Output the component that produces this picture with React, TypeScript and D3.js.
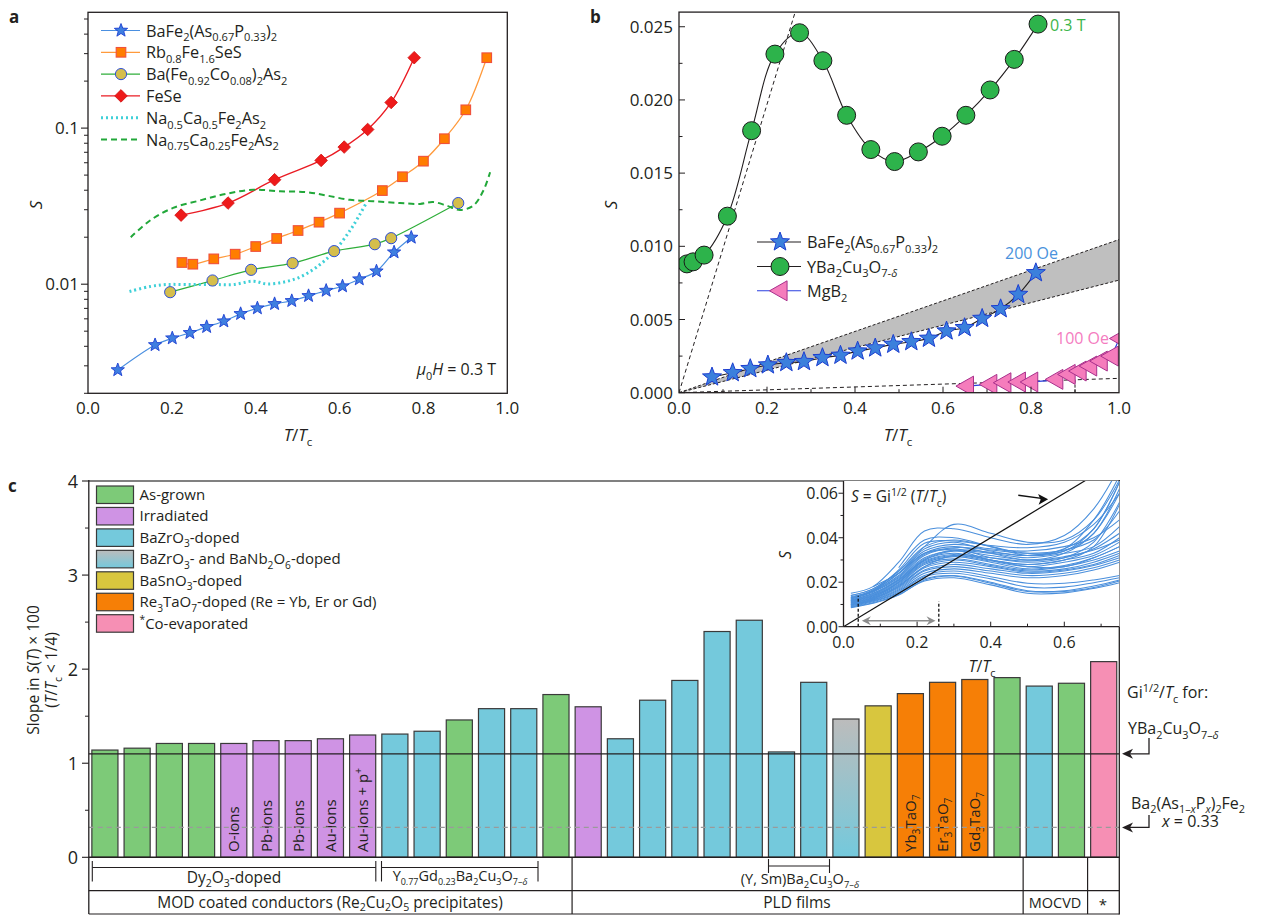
import React from 'react';
import * as d3 from 'd3';

const FONT = "'Open Sans', 'Noto Sans', sans-serif";

// ---------------- Panel a data ----------------
const aT_BaFeP = [0.071, 0.160, 0.201, 0.243, 0.283, 0.324, 0.364, 0.404, 0.445, 0.486, 0.526, 0.568, 0.607, 0.647, 0.688, 0.730, 0.771];
const aS_BaFeP = [0.00282, 0.00408, 0.00451, 0.00488, 0.00533, 0.00579, 0.00646, 0.00702, 0.00748, 0.00782, 0.00842, 0.00910, 0.00971, 0.01077, 0.01211, 0.01603, 0.01991];
const aT_Rb = [0.224, 0.250, 0.300, 0.351, 0.400, 0.450, 0.501, 0.551, 0.600, 0.702, 0.750, 0.800, 0.850, 0.901, 0.951];
const aS_Rb = [0.01377, 0.01343, 0.01453, 0.01557, 0.01743, 0.01963, 0.02208, 0.02496, 0.02853, 0.0398, 0.0488, 0.0614, 0.0855, 0.131, 0.2825];
const aT_Co = [0.196, 0.297, 0.389, 0.488, 0.587, 0.684, 0.723, 0.883];
const aS_Co = [0.00889, 0.01056, 0.01236, 0.01364, 0.01629, 0.01804, 0.01972, 0.0331];
const aT_FeSe = [0.222, 0.334, 0.445, 0.556, 0.611, 0.667, 0.723, 0.778];
const aS_FeSe = [0.0277, 0.0331, 0.0467, 0.0621, 0.0756, 0.0980, 0.146, 0.2825];
const aT_Na05 = [0.099, 0.148, 0.187, 0.235, 0.299, 0.347, 0.394, 0.426, 0.466, 0.505, 0.545, 0.585, 0.625, 0.649, 0.665];
const aS_Na05 = [0.00898, 0.00966, 0.00995, 0.00995, 0.00995, 0.00995, 0.01045, 0.01005, 0.0103, 0.0111, 0.01285, 0.01603, 0.0221, 0.0282, 0.0336];
const aT_Na075 = [0.102, 0.148, 0.203, 0.267, 0.331, 0.394, 0.458, 0.521, 0.569, 0.625, 0.680, 0.744, 0.792, 0.823, 0.855, 0.887, 0.919, 0.943, 0.959];
const aS_Na075 = [0.0200, 0.0256, 0.0308, 0.0344, 0.0380, 0.0403, 0.0394, 0.0389, 0.0370, 0.0347, 0.0340, 0.0331, 0.0327, 0.0336, 0.0319, 0.0299, 0.0319, 0.0398, 0.0522];
const aLegend = ['BaFe_{2}(As_{0.67}P_{0.33})_{2}', 'Rb_{0.8}Fe_{1.6}SeS', 'Ba(Fe_{0.92}Co_{0.08})_{2}As_{2}', 'FeSe', 'Na_{0.5}Ca_{0.5}Fe_{2}As_{2}', 'Na_{0.75}Ca_{0.25}Fe_{2}As_{2}'];
const aXTicks = [0, 0.2, 0.4, 0.6, 0.8, 1.0];
const aYMajor = [0.01, 0.1];
const aYMinor = [0.002, 0.003, 0.004, 0.005, 0.006, 0.007, 0.008, 0.009, 0.02, 0.03, 0.04, 0.05, 0.06, 0.07, 0.08, 0.09, 0.2, 0.3, 0.4, 0.5];

// ---------------- Panel b data ----------------
const bT_YBCO = [0.018, 0.032, 0.057, 0.110, 0.165, 0.218, 0.274, 0.327, 0.381, 0.436, 0.490, 0.544, 0.598, 0.652, 0.707, 0.762, 0.816];
const bS_YBCO = [0.00880, 0.00894, 0.00940, 0.01206, 0.01790, 0.02313, 0.02459, 0.02268, 0.01895, 0.01661, 0.01579, 0.01645, 0.01752, 0.01895, 0.02068, 0.02277, 0.02518];
const bT_BaFeP = [0.075, 0.122, 0.162, 0.202, 0.244, 0.284, 0.326, 0.367, 0.406, 0.446, 0.487, 0.528, 0.568, 0.608, 0.649, 0.689, 0.731, 0.771, 0.811];
const bS_BaFeP = [0.00107, 0.00136, 0.00164, 0.00189, 0.00205, 0.00212, 0.00239, 0.00255, 0.00284, 0.00305, 0.00330, 0.00348, 0.00371, 0.00421, 0.00444, 0.00507, 0.00573, 0.00671, 0.00819];
const bT_MgB2 = [0.651, 0.704, 0.736, 0.769, 0.797, 0.854, 0.882, 0.907, 0.931, 0.955, 0.980, 1.0];
const bS_MgB2 = [0.00045, 0.00057, 0.00068, 0.00073, 0.00073, 0.00091, 0.00125, 0.00148, 0.00182, 0.00216, 0.0025, 0.0037];
const bSteepLine = [[0, 0], [0.264, 0.026]];
const bBandUpper = [[0, 0], [1, 0.01046]];
const bBandLower = [[0, 0], [1, 0.00769]];
const bMgB2Line = [[0, 0], [1, 0.00098]];
const bLegend = ['BaFe_{2}(As_{0.67}P_{0.33})_{2}', 'YBa_{2}Cu_{3}O_{7-~δ~}', 'MgB_{2}'];
const bYTicks = [0, 0.005, 0.01, 0.015, 0.02, 0.025];
const bYLabels = ['0.000', '0.005', '0.010', '0.015', '0.020', '0.025'];
const bXTicks = [0, 0.2, 0.4, 0.6, 0.8, 1.0];

// ---------------- Panel c data ----------------
const barValues = [1.14, 1.16, 1.21, 1.21, 1.21, 1.24, 1.24, 1.26, 1.30, 1.31, 1.34, 1.46, 1.58, 1.58, 1.73,
  1.60, 1.26, 1.67, 1.88, 2.40, 2.52, 1.12, 1.86, 1.47, 1.61, 1.74, 1.86, 1.89, 1.91,
  1.82, 1.85, 2.08];
const barTypes = ['ag', 'ag', 'ag', 'ag', 'ir', 'ir', 'ir', 'ir', 'ir', 'bz', 'bz', 'ag', 'bz', 'bz', 'ag',
  'ir', 'bz', 'bz', 'bz', 'bz', 'bz', 'bz', 'bz', 'bn', 'bs', 'rt', 'rt', 'rt', 'ag',
  'bz', 'ag', 'co'];
const barLabels: Record<number, string> = {
  4: 'O-ions', 5: 'Pb-ions', 6: 'Pb-ions', 7: 'Au-ions', 8: 'Au-ions + p^{+}',
  25: 'Yb_{3}TaO_{7}', 26: 'Er_{3}TaO_{7}', 27: 'Gd_{3}TaO_{7}',
};
const typeOrder = ['ag', 'ir', 'bz', 'bn', 'bs', 'rt', 'co'];
const typeColors: Record<string, string> = {
  ag: '#7dca78', ir: '#cf93e4', bz: '#74c9dc', bn: 'url(#gradBN)', bs: '#d8c63e', rt: '#f67f06', co: '#f68fb4',
};
const cLegend = ['As-grown', 'Irradiated', 'BaZrO_{3}-doped', 'BaZrO_{3}- and BaNb_{2}O_{6}-doped', 'BaSnO_{3}-doped',
  'Re_{3}TaO_{7}-doped (Re = Yb, Er or Gd)', '^{*}Co-evaporated'];
const cYTicks = [0, 1, 2, 3, 4];
const gi_YBCO = 1.1;
const gi_BaFeP = 0.318;

// ---------------- Inset data ----------------
const insetT = [0.02, 0.08, 0.15, 0.22, 0.3, 0.4, 0.5, 0.6, 0.68, 0.75];
const insetCurves: (number | null)[][] = [
  [0.0150, 0.0180, 0.0290, 0.0430, 0.0440, 0.0400, 0.0370, 0.0410, 0.0530, 0.0720],
  [0.0140, 0.0170, 0.0250, 0.0360, 0.0460, 0.0420, 0.0380, 0.0390, 0.0480, 0.0660],
  [0.0130, 0.0165, 0.0240, 0.0350, 0.0380, 0.0340, 0.0320, 0.0350, 0.0480, 0.0680],
  [0.0135, 0.0160, 0.0230, 0.0330, 0.0360, 0.0330, 0.0300, 0.0330, 0.0420, 0.0600],
  [0.0125, 0.0155, 0.0220, 0.0320, 0.0350, 0.0310, 0.0290, 0.0310, 0.0380, 0.0560],
  [0.0120, 0.0150, 0.0215, 0.0310, 0.0340, 0.0320, 0.0300, 0.0310, 0.0350, 0.0420],
  [0.0118, 0.0145, 0.0210, 0.0300, 0.0330, 0.0300, 0.0280, 0.0300, 0.0330, 0.0400],
  [0.0115, 0.0140, 0.0200, 0.0290, 0.0320, 0.0295, 0.0270, 0.0290, 0.0320, 0.0380],
  [0.0112, 0.0138, 0.0195, 0.0285, 0.0315, 0.0290, 0.0260, 0.0275, 0.0310, 0.0360],
  [0.0110, 0.0135, 0.0190, 0.0280, 0.0305, 0.0280, 0.0255, 0.0270, 0.0300, 0.0340],
  [0.0108, 0.0130, 0.0185, 0.0270, 0.0300, 0.0275, 0.0250, 0.0260, 0.0290, 0.0330],
  [0.0105, 0.0128, 0.0180, 0.0265, 0.0290, 0.0270, 0.0245, 0.0255, 0.0280, 0.0320],
  [0.0102, 0.0125, 0.0175, 0.0255, 0.0280, 0.0260, 0.0240, 0.0250, 0.0275, 0.0310],
  [0.0100, 0.0122, 0.0170, 0.0250, 0.0270, 0.0250, 0.0230, 0.0240, 0.0265, 0.0300],
  [0.0098, 0.0120, 0.0165, 0.0240, 0.0260, 0.0240, 0.0220, 0.0230, 0.0255, 0.0290],
  [0.0095, 0.0118, 0.0160, 0.0230, 0.0250, 0.0225, 0.0195, 0.0195, 0.0210, 0.0230],
  [0.0093, 0.0115, 0.0155, 0.0225, 0.0240, 0.0215, 0.0178, 0.0178, 0.0198, 0.0220],
  [0.0090, 0.0112, 0.0150, 0.0215, 0.0230, 0.0200, 0.0162, 0.0162, 0.0183, 0.0210],
  [0.0088, 0.0108, 0.0145, 0.0205, 0.0220, 0.0188, 0.0150, 0.0152, 0.0172, 0.0198],
  [0.0085, 0.0105, 0.0142, 0.0210, 0.0228, 0.0195, 0.0158, 0.0158, 0.0176, 0.0205],
  [0.0125, 0.0160, 0.0240, 0.0340, 0.0370, 0.0350, 0.0340, 0.0360, 0.0400, 0.0480],
  [0.0130, 0.0158, 0.0225, 0.0325, 0.0355, 0.0345, 0.0330, 0.0345, 0.0390, 0.0520],
  [0.0140, 0.0170, 0.0250, 0.0360, 0.0390, 0.0360, 0.0330, 0.0340, 0.0440, 0.0650],
  [null, null, 0.0265, 0.0390, 0.0400, 0.0360, 0.0320, 0.0340, 0.0420, 0.0620],
  [0.0105, 0.0132, 0.0200, 0.0300, 0.0340, 0.0330, 0.0310, 0.0330, 0.0360, 0.0450],
  [0.0115, 0.0142, 0.0205, 0.0295, 0.0325, 0.0310, 0.0295, 0.0315, 0.0345, 0.0390],
  [null, 0.0180, 0.0240, 0.0330, 0.0345, 0.0300, 0.0280, 0.0300, 0.0360, 0.0550],
  [0.0120, 0.0148, 0.0210, 0.0305, 0.0345, 0.0335, 0.0320, 0.0350, 0.0440, 0.0650],
  [0.0100, 0.0125, 0.0180, 0.0270, 0.0320, 0.0300, 0.0270, 0.0270, 0.0310, 0.0360],
  [0.0128, 0.0162, 0.0255, 0.0375, 0.0385, 0.0365, 0.0355, 0.0380, 0.0460, 0.0600],
];
const insetGiLine = [[0, 0], [0.66, 0.066]];
const insetYTicks = [0, 0.02, 0.04, 0.06];
const insetXTicks = [0, 0.2, 0.4, 0.6];

// ---------------- helpers ----------------
type Seg = { text: string; mode: number; italic: boolean };
function parseRich(s: string): Seg[] {
  const segs: Seg[] = [];
  let italic = false, mode = 0, buf = '';
  const push = () => { if (buf) { segs.push({ text: buf, mode, italic }); buf = ''; } };
  for (let i = 0; i < s.length; i++) {
    const c = s[i];
    if ((c === '_' || c === '^') && s[i + 1] === '{') { push(); mode = c === '_' ? 1 : -1; i++; continue; }
    if (c === '}' && mode !== 0) { push(); mode = 0; continue; }
    if (c === '~') { push(); italic = !italic; continue; }
    buf += c;
  }
  push();
  return segs;
}

function Rich(props: { x: number; y: number; text: string; fs?: number; anchor?: string; fill?: string; rotate?: number; weight?: string; subScale?: number; subShift?: number }) {
  const { x, y, text, fs = 16, anchor = 'start', fill = '#231f20', rotate = 0, weight = 'normal', subScale = 0.68, subShift = 0.3 } = props;
  const segs = parseRich(text);
  let cur = 0;
  const spans = segs.map((s, i) => {
    const target = s.mode === 1 ? subShift * fs : s.mode === -1 ? -0.38 * fs : 0;
    const dy = target - cur;
    cur = target;
    return (
      <tspan key={i} dy={dy} fontSize={s.mode !== 0 ? fs * subScale : fs} fontStyle={s.italic ? 'italic' : 'normal'}>{s.text}</tspan>
    );
  });
  return (
    <text x={x} y={y} fontSize={fs} fontFamily={FONT} textAnchor={anchor as any} fill={fill} fontWeight={weight}
      style={{ whiteSpace: 'pre' }} transform={rotate ? `rotate(${rotate},${x},${y})` : undefined}>
      {spans}
    </text>
  );
}

function starPath(R: number) {
  const r = R * 0.42;
  const pts: string[] = [];
  for (let i = 0; i < 10; i++) {
    const a = -Math.PI / 2 + (i * Math.PI) / 5;
    const rr = i % 2 === 0 ? R : r;
    pts.push(`${(rr * Math.cos(a)).toFixed(2)},${(rr * Math.sin(a)).toFixed(2)}`);
  }
  return 'M' + pts.join('L') + 'Z';
}
const diamondPath = (r: number) => `M0,${-r}L${r},0L0,${r}L${-r},0Z`;
const leftTriPath = (r: number) => `M${-r},0L${r * 0.85},${-r * 1.05}L${r * 0.85},${r * 1.05}Z`;

// ---------------- scales ----------------
const xA = d3.scaleLinear().domain([0, 1]).range([88, 507.3]);
const yA = d3.scaleLog().domain([0.002, 0.552]).range([393.3, 12.3]);
const xB = d3.scaleLinear().domain([0, 1]).range([679, 1119]);
const yB = d3.scaleLinear().domain([0, 0.026]).range([392.7, 12.1]);
const xC = d3.scaleBand<number>().domain(d3.range(barValues.length)).range([88.8, 1119.8]).paddingInner(0.19).paddingOuter(0.095);
const yC = d3.scaleLinear().domain([0, 4]).range([857.3, 481]);
const xI = d3.scaleLinear().domain([0, 0.75]).range([843.5, 1119.5]);
const yI = d3.scaleLinear().domain([0, 0.0655]).range([626.7, 481]);

const smooth = (xs: any, ys: any) => d3.line<number>().x((d) => xs(d[0])).y((d) => ys(d[1])).curve(d3.curveCatmullRom.alpha(0.5));
const straight = (xs: any, ys: any) => d3.line<number[]>().x((d) => xs(d[0])).y((d) => ys(d[1]));
const zip = (t: number[], s: number[]) => t.map((v, i) => [v, s[i]]);

function PanelA() {
  const line = smooth(xA, yA);
  const series = [
    { t: aT_BaFeP, s: aS_BaFeP, color: '#4a8fe0', w: 1.2, dash: undefined as string | undefined },
    { t: aT_Rb, s: aS_Rb, color: '#ff9a3c', w: 1.3, dash: undefined },
    { t: aT_Co, s: aS_Co, color: '#2fae3a', w: 1.2, dash: undefined },
    { t: aT_FeSe, s: aS_FeSe, color: '#ea1c24', w: 1.4, dash: undefined },
    { t: aT_Na05, s: aS_Na05, color: '#3fd0d8', w: 3, dash: '2,3' },
    { t: aT_Na075, s: aS_Na075, color: '#22a83a', w: 2, dash: '6,4' },
  ];
  const marker = (k: number, x: number, y: number, key: any) => {
    if (k === 0) return <path key={key} d={starPath(7)} transform={`translate(${x},${y})`} fill="#3f7fe0" stroke="#1d3fd2" strokeWidth={0.9} />;
    if (k === 1) return <rect key={key} x={x - 4.8} y={y - 4.8} width={9.6} height={9.6} fill="#ff7d00" stroke="#f0503c" strokeWidth={1.1} />;
    if (k === 2) return <circle key={key} cx={x} cy={y} r={5.6} fill="#d5be4c" stroke="#2d4fd8" strokeWidth={1} />;
    if (k === 3) return <path key={key} d={diamondPath(6.3)} transform={`translate(${x},${y})`} fill="#ee1a1a" stroke="#d01010" strokeWidth={0.8} />;
    return null;
  };
  return (
    <g>
      <rect x={88} y={12.3} width={419.3} height={381} fill="none" stroke="#231f20" strokeWidth={1.3} />
      {aYMajor.map((v) => <line key={'M' + v} x1={81} x2={88} y1={yA(v)} y2={yA(v)} stroke="#231f20" strokeWidth={1.1} />)}
      {aYMinor.map((v) => <line key={'m' + v} x1={84} x2={88} y1={yA(v)} y2={yA(v)} stroke="#231f20" strokeWidth={1} />)}
      <Rich x={79} y={yA(0.1) + 6} text="0.1" fs={17} anchor="end" />
      <Rich x={79} y={yA(0.01) + 6} text="0.01" fs={17} anchor="end" />
      {aXTicks.map((v) => <Rich key={v} x={xA(v)} y={414} text={v.toFixed(1)} fs={17} anchor="middle" />)}
      <Rich x={42} y={205} text="~S~" fs={17} anchor="middle" rotate={-90} />
      <Rich x={298} y={441} text="~T~/~T~_{c}" fs={17} anchor="middle" />
      <g clipPath="url(#clipA)">
        {series.map((s, k) => (
          <path key={k} d={line(zip(s.t, s.s) as any) || ''} fill="none" stroke={s.color} strokeWidth={s.w} strokeDasharray={s.dash} />
        ))}
        {series.slice(0, 4).map((s, k) => s.t.map((t, i) => marker(k, xA(t), yA(s.s[i]), `${k}-${i}`)))}
      </g>
      {aLegend.map((txt, k) => {
        const y = 30.5 + k * 21.8;
        const s = series[k];
        return (
          <g key={k}>
            <line x1={101} x2={140} y1={y} y2={y} stroke={s.color} strokeWidth={k >= 4 ? (k === 4 ? 3 : 2) : s.w} strokeDasharray={s.dash} />
            {marker(k, 121, y, 'lg' + k)}
            <Rich x={146} y={y + 6} text={txt} fs={16.3} />
          </g>
        );
      })}
      <Rich x={496} y={375} text="~μ~_{0}~H~ = 0.3 T" fs={16} anchor="end" />
      <text x={9} y={23} fontSize={17} fontWeight="bold" fontFamily={FONT} fill="#231f20">a</text>
    </g>
  );
}

function PanelB() {
  const line = smooth(xB, yB);
  const sl = straight(xB, yB);
  const band = [bBandUpper[0], bBandUpper[1], bBandLower[1]];
  const star = (x: number, y: number, key: any) => <path key={key} d={starPath(10)} transform={`translate(${x},${y})`} fill="#3b80dc" stroke="#1c3dd0" strokeWidth={1} />;
  const circ = (x: number, y: number, key: any) => <circle key={key} cx={x} cy={y} r={9} fill="#2db34b" stroke="#1a1a1a" strokeWidth={1} />;
  const tri = (x: number, y: number, key: any) => <path key={key} d={leftTriPath(9.5)} transform={`translate(${x},${y})`} fill="#f57cbc" stroke="#a8308c" strokeWidth={1} />;
  return (
    <g>
      <g clipPath="url(#clipB)">
        <path d={sl(band as any) + 'Z'} fill="#bfbfbf" stroke="none" />
        <path d={sl(bBandUpper as any) || ''} fill="none" stroke="#231f20" strokeWidth={1} strokeDasharray="3,2" />
        <path d={sl(bBandLower as any) || ''} fill="none" stroke="#231f20" strokeWidth={1} strokeDasharray="3,2" />
        <path d={sl(bSteepLine as any) || ''} fill="none" stroke="#231f20" strokeWidth={1} strokeDasharray="4,3" />
        <path d={sl(bMgB2Line as any) || ''} fill="none" stroke="#231f20" strokeWidth={1} strokeDasharray="4,3" />
        <line x1={xB(0.9)} x2={xB(0.9)} y1={yB(0)} y2={yB(0.00094)} stroke="#231f20" strokeWidth={1} strokeDasharray="3,2" />
        <path d={line(zip(bT_YBCO, bS_YBCO) as any) || ''} fill="none" stroke="#231f20" strokeWidth={1.1} />
        <path d={line(zip(bT_BaFeP, bS_BaFeP) as any) || ''} fill="none" stroke="#231f20" strokeWidth={1.1} />
        <path d={line(zip(bT_MgB2, bS_MgB2) as any) || ''} fill="none" stroke="#2a3fe0" strokeWidth={1.1} />
        {bT_YBCO.map((t, i) => circ(xB(t), yB(bS_YBCO[i]), 'c' + i))}
        {bT_BaFeP.map((t, i) => star(xB(t), yB(bS_BaFeP[i]), 's' + i))}
        {bT_MgB2.map((t, i) => tri(xB(t), yB(bS_MgB2[i]), 't' + i))}
      </g>
      <rect x={679} y={12.1} width={440} height={380.6} fill="none" stroke="#231f20" strokeWidth={1.3} />
      {d3.range(0, 0.0251, 0.0025).map((v, i) => (
        <line key={'y' + i} x1={679} x2={679 + (i % 2 === 0 ? 6 : 3.5)} y1={yB(v)} y2={yB(v)} stroke="#231f20" strokeWidth={1} />
      ))}
      {d3.range(0.1, 0.95, 0.1).map((v, i) => (
        <line key={'x' + i} x1={xB(v)} x2={xB(v)} y1={392.7} y2={392.7 - (i % 2 === 1 ? 6 : 3.5)} stroke="#231f20" strokeWidth={1} />
      ))}
      {bYTicks.map((v, i) => <Rich key={v} x={673} y={yB(v) + 6} text={bYLabels[i]} fs={17} anchor="end" />)}
      {bXTicks.map((v) => <Rich key={v} x={xB(v)} y={414} text={v.toFixed(1)} fs={17} anchor="middle" />)}
      <Rich x={617} y={205} text="~S~" fs={17} anchor="middle" rotate={-90} />
      <Rich x={898} y={441} text="~T~/~T~_{c}" fs={17} anchor="middle" />
      {bLegend.map((txt, k) => {
        const y = [242, 266.5, 290.8][k];
        return (
          <g key={k}>
            <line x1={757} x2={801} y1={y} y2={y} stroke={k === 2 ? '#2a3fe0' : '#231f20'} strokeWidth={1.1} />
            {k === 0 ? star(780, y, 'l0') : k === 1 ? circ(780, y, 'l1') : tri(779, y, 'l2')}
            <Rich x={807} y={y + 6} text={txt} fs={16.3} />
          </g>
        );
      })}
      <Rich x={1050} y={31} text="0.3 T" fs={16} fill="#3cb54a" />
      <Rich x={1005} y={259} text="200 Oe" fs={16} fill="#4a92dc" />
      <Rich x={1056} y={344} text="100 Oe" fs={16} fill="#f47cc0" />
      <text x={590} y={23} fontSize={17} fontWeight="bold" fontFamily={FONT} fill="#231f20">b</text>
    </g>
  );
}

function Inset() {
  const line = d3.line<[number, number | null]>().defined((d) => d[1] != null).x((d) => xI(d[0])).y((d) => yI(d[1] as number)).curve(d3.curveCatmullRom.alpha(0.5));
  const sl = straight(xI, yI);
  const ay = yI(0.0027);
  return (
    <g>
      <rect x={843.5} y={481} width={276} height={145.7} fill="#fff" />
      <g clipPath="url(#clipI)">
        {insetCurves.map((c, k) => (
          <path key={k} d={line(insetT.map((t, i) => [t, c[i]] as [number, number | null])) || ''} fill="none" stroke="#4a8fdc" strokeWidth={1.05} />
        ))}
        <path d={sl(insetGiLine as any) || ''} stroke="#111" strokeWidth={1.2} fill="none" />
      </g>
      <line x1={xI(0.04)} x2={xI(0.04)} y1={yI(0)} y2={yI(0.0139)} stroke="#111" strokeWidth={1.3} strokeDasharray="3,2" />
      <line x1={xI(0.259)} x2={xI(0.259)} y1={yI(0)} y2={yI(0.0113)} stroke="#111" strokeWidth={1.3} strokeDasharray="3,2" />
      <line x1={xI(0.05) + 4} x2={xI(0.25) - 4} y1={ay} y2={ay} stroke="#8c8c8c" strokeWidth={1.6} />
      <path d={`M${xI(0.05)},${ay}L${xI(0.05) + 9},${ay - 4.5}L${xI(0.05) + 6},${ay}L${xI(0.05) + 9},${ay + 4.5}Z`} fill="#8c8c8c" />
      <path d={`M${xI(0.25)},${ay}L${xI(0.25) - 9},${ay - 4.5}L${xI(0.25) - 6},${ay}L${xI(0.25) - 9},${ay + 4.5}Z`} fill="#8c8c8c" />
      <line x1={xI(0.475)} y1={yI(0.0591)} x2={xI(0.548)} y2={yI(0.0575)} stroke="#111" strokeWidth={1.3} />
      <path d={`M${xI(0.556)},${yI(0.0573)}l-10,-5.2l2.5,5.6l-2,5Z`} fill="#111" />
      <line x1={843.5} x2={843.5} y1={481} y2={626.7} stroke="#231f20" strokeWidth={1.3} />
      <line x1={843.5} x2={1119} y1={626.7} y2={626.7} stroke="#231f20" strokeWidth={1.3} />
      {d3.range(0, 0.0601, 0.01).map((v, i) => (
        <line key={'y' + i} x1={843.5 - (i % 2 === 0 ? 5 : 3)} x2={843.5} y1={yI(v)} y2={yI(v)} stroke="#231f20" strokeWidth={1} />
      ))}
      {d3.range(0.1, 0.75, 0.1).map((v, i) => (
        <line key={'x' + i} x1={xI(v)} x2={xI(v)} y1={626.7} y2={626.7 - (i % 2 === 1 ? 5 : 3)} stroke="#231f20" strokeWidth={1} />
      ))}
      {insetYTicks.map((v) => <Rich key={v} x={838} y={yI(v) + 6} text={v.toFixed(2)} fs={16} anchor="end" />)}
      {insetXTicks.map((v) => <Rich key={v} x={xI(v)} y={648} text={v.toFixed(1)} fs={16} anchor="middle" />)}
      <Rich x={791} y={555} text="~S~" fs={16} anchor="middle" rotate={-90} />
      <Rich x={982} y={672} text="~T~/~T~_{c}" fs={16} anchor="middle" />
      <Rich x={851} y={502} text="~S~ = Gi^{1/2} (~T~/~T~_{c})" fs={15.5} />
    </g>
  );
}

function PanelC() {
  const bw = xC.bandwidth();
  const y0 = yC(0);
  return (
    <g>
      {barValues.map((v, i) => (
        <rect key={i} x={xC(i)} y={yC(v)} width={bw} height={y0 - yC(v)} fill={typeColors[barTypes[i]]} stroke="#3a3a3a" strokeWidth={1.2} />
      ))}
      {Object.keys(barLabels).map((k) => {
        const i = +k;
        return <Rich key={k} x={(xC(i) as number) + bw / 2 + 5.5} y={852} text={barLabels[i]} fs={15} anchor="start" rotate={-90} subShift={0.25} />;
      })}
      <line x1={88.8} x2={1119} y1={yC(gi_YBCO)} y2={yC(gi_YBCO)} stroke="#231f20" strokeWidth={1.3} />
      <line x1={88.8} x2={1119} y1={yC(gi_BaFeP)} y2={yC(gi_BaFeP)} stroke="#9a9a9a" strokeWidth={1.3} strokeDasharray="5,4" />
      {/* frame */}
      <line x1={88.8} x2={1119.5} y1={481} y2={481} stroke="#808080" strokeWidth={2} />
      <line x1={88.8} x2={88.8} y1={480} y2={914} stroke="#231f20" strokeWidth={1.3} />
      <line x1={1119.3} x2={1119.3} y1={480} y2={914.5} stroke="#231f20" strokeWidth={1.3} />
      <line x1={88.8} x2={1119.3} y1={y0} y2={y0} stroke="#231f20" strokeWidth={1.4} />
      <line x1={88.8} x2={1119.3} y1={890.7} y2={890.7} stroke="#231f20" strokeWidth={1.2} />
      <line x1={88.8} x2={1119.3} y1={914} y2={914} stroke="#231f20" strokeWidth={1.2} />
      {[15, 29, 31].map((i) => {
        const x = (xC(i) as number) - xC.step() * 0.095;
        return <line key={i} x1={x} x2={x} y1={y0} y2={914} stroke="#231f20" strokeWidth={1.2} />;
      })}
      {cYTicks.map((v) => <line key={v} x1={82} x2={88.8} y1={yC(v)} y2={yC(v)} stroke="#231f20" strokeWidth={1.1} />)}
      {[0.5, 1.5, 2.5, 3.5].map((v) => <line key={v} x1={85} x2={88.8} y1={yC(v)} y2={yC(v)} stroke="#231f20" strokeWidth={1} />)}
      {cYTicks.map((v) => <Rich key={v} x={78} y={yC(v) + 6.5} text={String(v)} fs={18} anchor="end" />)}
      <Rich x={39} y={670} text="Slope in ~S~(~T~) × 100" fs={15.5} anchor="middle" rotate={-90} />
      <Rich x={57} y={670} text="(~T~/~T~_{c} < 1/4)" fs={15.5} anchor="middle" rotate={-90} />
      <text x={8} y={492} fontSize={17} fontWeight="bold" fontFamily={FONT} fill="#231f20">c</text>
      {/* legend */}
      {cLegend.map((txt, k) => {
        const y = 486 + k * 21.45;
        return (
          <g key={k}>
            <rect x={96.5} y={y} width={37} height={17.5} fill={typeColors[typeOrder[k]]} stroke="#3a3a3a" strokeWidth={1.2} />
            <Rich x={139.5} y={y + 14} text={txt} fs={15} />
          </g>
        );
      })}
      {/* brackets */}
      <g stroke="#231f20" strokeWidth={1.1}>
        <line x1={92.3} x2={375.8} y1={867.5} y2={867.5} />
        <line x1={92.3} x2={92.3} y1={861} y2={881.5} />
        <line x1={375.8} x2={375.8} y1={861} y2={881.5} />
        <line x1={381.5} x2={538} y1={867.5} y2={867.5} />
        <line x1={381.5} x2={381.5} y1={861} y2={881.5} />
        <line x1={538} x2={538} y1={861} y2={881.5} />
        <line x1={768.5} x2={829.5} y1={866} y2={866} />
        <line x1={768.5} x2={768.5} y1={859} y2={873} />
        <line x1={829.5} x2={829.5} y1={859} y2={873} />
      </g>
      <Rich x={234} y={882.5} text="Dy_{2}O_{3}-doped" fs={15.5} anchor="middle" />
      <Rich x={460} y={881} text="Y_{0.77}Gd_{0.23}Ba_{2}Cu_{3}O_{7–~δ~}" fs={14.5} anchor="middle" subScale={0.62} subShift={0.25} />
      <Rich x={800} y={884} text="(Y, Sm)Ba_{2}Cu_{3}O_{7–~δ~}" fs={14.5} anchor="middle" subScale={0.65} subShift={0.25} />
      <Rich x={330} y={908} text="MOD coated conductors (Re_{2}Cu_{2}O_{5} precipitates)" fs={15.5} anchor="middle" subShift={0.22} />
      <Rich x={797} y={908} text="PLD films" fs={15.5} anchor="middle" />
      <Rich x={1055} y={908} text="MOCVD" fs={14.5} anchor="middle" />
      <Rich x={1103} y={910} text="*" fs={15} anchor="middle" />
      {/* right annotations */}
      <Rich x={1127} y={698} text="Gi^{1/2}/~T~_{c} for:" fs={16} />
      <Rich x={1128} y={734} text="YBa_{2}Cu_{3}O_{7–~δ~}" fs={16} />
      <path d={`M1149,738V${yC(gi_YBCO)}H1130`} fill="none" stroke="#231f20" strokeWidth={1.3} />
      <path d={`M1122,${yC(gi_YBCO)}l11,-5l-3,5l3,5Z`} fill="#231f20" />
      <Rich x={1131} y={809} text="Ba_{2}(As_{1–~x~}P_{~x~})_{2}Fe_{2}" fs={16} subShift={0.22} />
      <Rich x={1162} y={827} text="~x~ = 0.33" fs={16} />
      <path d={`M1149,815V${yC(gi_BaFeP)}H1130`} fill="none" stroke="#231f20" strokeWidth={1.3} />
      <path d={`M1122,${yC(gi_BaFeP)}l11,-5l-3,5l3,5Z`} fill="#231f20" />
    </g>
  );
}

export default function App() {
  return (
    <svg width={1261} height={915} viewBox="0 0 1261 915" style={{ position: 'absolute', left: 0, top: 0, background: '#fff' }} fontFamily={FONT}>
      <defs>
        <clipPath id="clipA"><rect x={88} y={12.3} width={419.3} height={381} /></clipPath>
        <clipPath id="clipB"><rect x={679} y={12.1} width={440} height={380.6} /></clipPath>
        <clipPath id="clipI"><rect x={843.5} y={481} width={276} height={145.7} /></clipPath>
        <linearGradient id="gradBN" x1="0" y1="0" x2="0" y2="1">
          <stop offset="0" stopColor="#bcbcbc" />
          <stop offset="1" stopColor="#74c9dc" />
        </linearGradient>
      </defs>
      <rect x={0} y={0} width={1261} height={915} fill="#fff" />
      <PanelA />
      <PanelB />
      <PanelC />
      <Inset />
    </svg>
  );
}
